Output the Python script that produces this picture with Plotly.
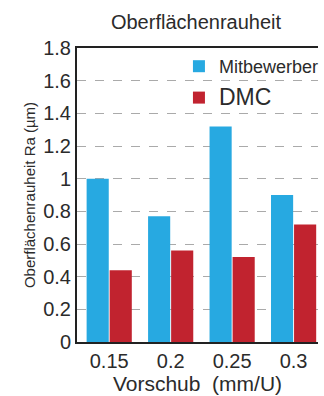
import plotly.graph_objects as go

categories = ["0.15", "0.2", "0.25", "0.3"]
mitbewerber = [1.0, 0.77, 1.32, 0.9]
dmc = [0.44, 0.56, 0.52, 0.72]

font_family = "Liberation Sans, Arial, Helvetica, sans-serif"
text_color = "#2b2b2b"

fig = go.Figure()
fig.add_trace(go.Bar(x=categories, y=mitbewerber, name="Mitbewerber", legendgroup="a",
                     marker=dict(color="#27a9e1", line=dict(width=0))))
fig.add_trace(go.Bar(x=categories, y=dmc, name='<span style="font-size:23px">DMC</span>',
                     legendgroup="b",
                     marker=dict(color="#c1232f", line=dict(width=0))))

fig.update_layout(
    width=324, height=396,
    margin=dict(l=77, r=0, t=48, b=54),
    paper_bgcolor="white", plot_bgcolor="white",
    font=dict(family=font_family, color=text_color),
    barmode="group", bargap=0.25, bargroupgap=0.04,
    title=dict(text="Oberflächenrauheit", x=196/324, xref="container", xanchor="center",
               y=1 - 22/396, yanchor="middle", font=dict(size=20, color=text_color)),
    legend=dict(x=0.423, y=1.0, xanchor="left", yanchor="top", bgcolor="rgba(0,0,0,0)",
                font=dict(size=18, color=text_color), tracegroupgap=5,
                traceorder="grouped"),
    showlegend=True,
)
fig.update_xaxes(
    range=[-0.524, 3.397], showline=True, linecolor="#222", linewidth=2, mirror=True,
    ticks="", tickfont=dict(size=20, color=text_color),
    title=dict(text="Vorschub  (mm/U)", font=dict(size=21, color=text_color), standoff=2),
    showgrid=False,
)
fig.update_yaxes(
    range=[0, 1.8], dtick=0.2, showline=True, linecolor="#222", linewidth=2,
    ticks="", tickfont=dict(size=20, color=text_color),
    title=dict(text="Oberflächenrauheit Ra (µm)", font=dict(size=15, color=text_color), standoff=4),
    showgrid=True, gridcolor="#aaaaaa", gridwidth=1, griddash="dash", zeroline=False,
)

fig.write_html("out.html", config={"displayModeBar": False},
               post_script="document.body.style.margin='0';")
